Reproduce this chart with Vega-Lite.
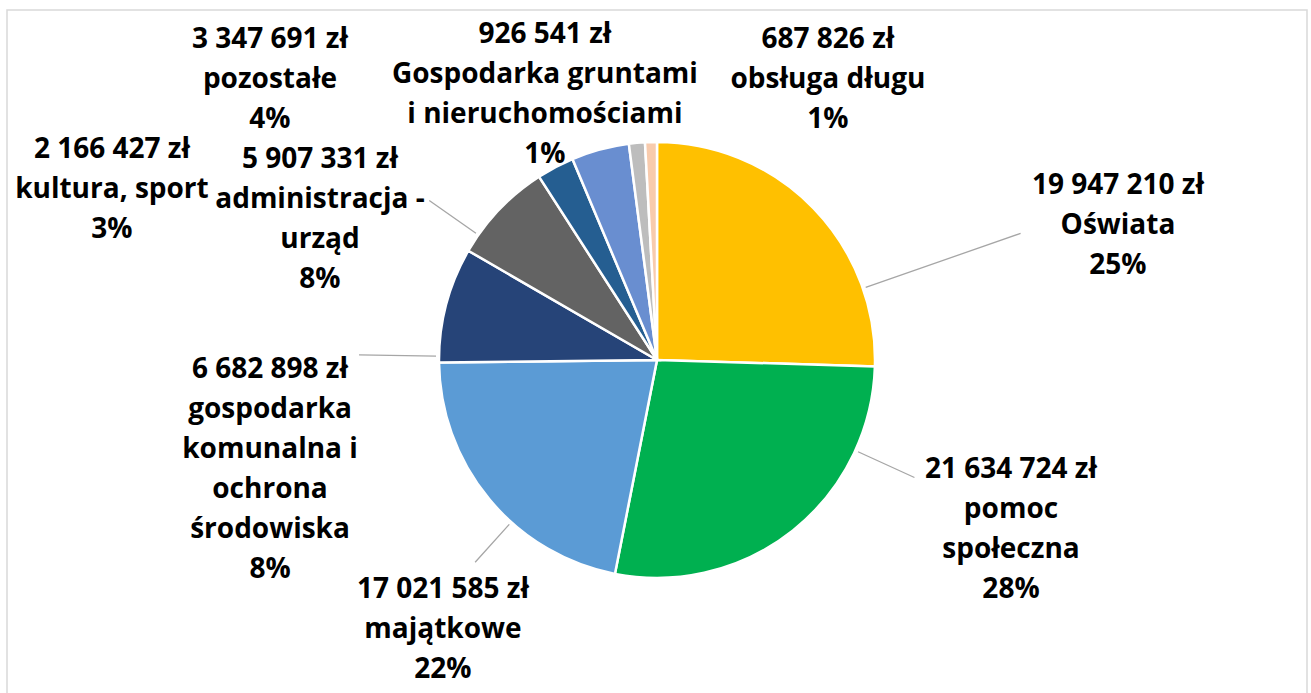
{
  "$schema": "https://vega.github.io/schema/vega-lite/v6.json",
  "width": 1300,
  "height": 700,
  "padding": {"left": 7, "top": 10, "right": 4, "bottom": 0},
  "autosize": {"type": "none"},
  "background": "white",
  "config": {
    "view": {"stroke": null},
    "text": {"font": "Open Sans", "fontSize": 28, "fontWeight": "bold", "lineHeight": 40, "lineBreak": "\n", "align": "center", "baseline": "middle", "color": "#000000"}
  },
  "data": {
    "values": [
      {"idx": 1, "category": "Oświata", "value": 19947210, "label": "19 947 210 zł\nOświata\n25%"},
      {"idx": 2, "category": "pomoc społeczna", "value": 21634724, "label": "21 634 724 zł\npomoc\nspołeczna\n28%"},
      {"idx": 3, "category": "majątkowe", "value": 17021585, "label": "17 021 585 zł\nmajątkowe\n22%"},
      {"idx": 4, "category": "gospodarka komunalna i ochrona środowiska", "value": 6682898, "label": "6 682 898 zł\ngospodarka\nkomunalna i\nochrona\nśrodowiska\n8%"},
      {"idx": 5, "category": "administracja - urząd", "value": 5907331, "label": "5 907 331 zł\nadministracja -\nurząd\n8%"},
      {"idx": 6, "category": "kultura, sport", "value": 2166427, "label": "2 166 427 zł\nkultura, sport\n3%"},
      {"idx": 7, "category": "pozostałe", "value": 3347691, "label": "3 347 691 zł\npozostałe\n4%"},
      {"idx": 8, "category": "Gospodarka gruntami i nieruchomościami", "value": 926541, "label": "926 541 zł\nGospodarka gruntami\ni nieruchomościami\n1%"},
      {"idx": 9, "category": "obsługa długu", "value": 687826, "label": "687 826 zł\nobsługa długu\n1%"}
    ]
  },
  "transform": [
    {"stack": "value", "groupby": [], "sort": [{"field": "idx", "order": "ascending"}], "as": ["v0", "v1"]}
  ],
  "layer": [
    {
      "data": {"values": [{"frame": "chart area"}]},
      "transform": [],
      "mark": {"type": "rect", "fill": null, "stroke": "#D9D9D9", "strokeWidth": 1.5},
      "encoding": {"x": {"value": 0}, "x2": {"value": "width"}, "y": {"value": 0}, "y2": {"value": "height"}}
    },
    {
      "mark": {"type": "arc", "outerRadius": 218, "stroke": "#FFFFFF", "strokeWidth": 2.5},
      "encoding": {
        "theta": {"field": "v1", "type": "quantitative", "scale": {"nice": false, "zero": true}},
        "theta2": {"field": "v0"},
        "color": {
          "field": "category", "type": "nominal", "legend": null,
          "scale": {
            "domain": ["Oświata", "pomoc społeczna", "majątkowe", "gospodarka komunalna i ochrona środowiska", "administracja - urząd", "kultura, sport", "pozostałe", "Gospodarka gruntami i nieruchomościami", "obsługa długu"],
            "range": ["#FFC000", "#00B050", "#5B9BD5", "#264478", "#636363", "#255E91", "#698ED0", "#BDBDBD", "#F8CBAD"]
          }
        }
      }
    },
    {
      "transform": [{"filter": {"field": "idx", "equal": 1}}],
      "mark": {"type": "arc", "innerRadius": 221, "outerRadius": 385, "thetaOffset": 1.2357, "theta2Offset": 1.2357, "stroke": "#A6A6A6", "strokeWidth": 1.3, "fill": null},
      "encoding": {"theta": {"field": "v0", "type": "quantitative", "stack": null}, "theta2": {"field": "v0"}}
    },
    {
      "transform": [{"filter": {"field": "idx", "equal": 2}}],
      "mark": {"type": "arc", "innerRadius": 221, "outerRadius": 283, "thetaOffset": 0.3988, "theta2Offset": 0.3988, "stroke": "#A6A6A6", "strokeWidth": 1.3, "fill": null},
      "encoding": {"theta": {"field": "v0", "type": "quantitative", "stack": null}, "theta2": {"field": "v0"}}
    },
    {
      "transform": [{"filter": {"field": "idx", "equal": 3}}],
      "mark": {"type": "arc", "innerRadius": 221, "outerRadius": 272, "thetaOffset": 0.5381, "theta2Offset": 0.5381, "stroke": "#A6A6A6", "strokeWidth": 1.3, "fill": null},
      "encoding": {"theta": {"field": "v0", "type": "quantitative", "stack": null}, "theta2": {"field": "v0"}}
    },
    {
      "transform": [{"filter": {"field": "idx", "equal": 4}}],
      "mark": {"type": "arc", "innerRadius": 221, "outerRadius": 298, "thetaOffset": 0.0284, "theta2Offset": 0.0284, "stroke": "#A6A6A6", "strokeWidth": 1.3, "fill": null},
      "encoding": {"theta": {"field": "v0", "type": "quantitative", "stack": null}, "theta2": {"field": "v0"}}
    },
    {
      "transform": [{"filter": {"field": "idx", "equal": 5}}],
      "mark": {"type": "arc", "innerRadius": 221, "outerRadius": 278, "thetaOffset": 0.0857, "theta2Offset": 0.0857, "stroke": "#A6A6A6", "strokeWidth": 1.3, "fill": null},
      "encoding": {"theta": {"field": "v0", "type": "quantitative", "stack": null}, "theta2": {"field": "v0"}}
    },
    {
      "transform": [{"filter": {"field": "idx", "equal": 1}}],
      "mark": {"type": "text", "radius": 492.7, "thetaOffset": 1.2099},
      "encoding": {"theta": {"field": "v0", "type": "quantitative", "stack": null}, "text": {"field": "label"}}
    },
    {
      "transform": [{"filter": {"field": "idx", "equal": 2}}],
      "mark": {"type": "text", "radius": 370.7, "thetaOffset": 0.2719},
      "encoding": {"theta": {"field": "v0", "type": "quantitative", "stack": null}, "text": {"field": "label"}}
    },
    {
      "transform": [{"filter": {"field": "idx", "equal": 3}}],
      "mark": {"type": "text", "radius": 314.2, "thetaOffset": 0.5552},
      "encoding": {"theta": {"field": "v0", "type": "quantitative", "stack": null}, "text": {"field": "label"}}
    },
    {
      "transform": [{"filter": {"field": "idx", "equal": 4}}],
      "mark": {"type": "text", "radius": 387.1, "thetaOffset": -0.0148},
      "encoding": {"theta": {"field": "v0", "type": "quantitative", "stack": null}, "text": {"field": "label"}}
    },
    {
      "transform": [{"filter": {"field": "idx", "equal": 5}}],
      "mark": {"type": "text", "radius": 391.9, "thetaOffset": 0.0105},
      "encoding": {"theta": {"field": "v0", "type": "quantitative", "stack": null}, "text": {"field": "label"}}
    },
    {
      "transform": [{"filter": {"field": "idx", "equal": 6}}],
      "mark": {"type": "text", "radius": 584.1, "thetaOffset": -0.6313},
      "encoding": {"theta": {"field": "v0", "type": "quantitative", "stack": null}, "text": {"field": "label"}}
    },
    {
      "transform": [{"filter": {"field": "idx", "equal": 7}}],
      "mark": {"type": "text", "radius": 502.2, "thetaOffset": -0.4819},
      "encoding": {"theta": {"field": "v0", "type": "quantitative", "stack": null}, "text": {"field": "label"}}
    },
    {
      "transform": [{"filter": {"field": "idx", "equal": 8}}],
      "mark": {"type": "text", "radius": 343.8, "thetaOffset": -0.2025},
      "encoding": {"theta": {"field": "v0", "type": "quantitative", "stack": null}, "text": {"field": "label"}}
    },
    {
      "transform": [{"filter": {"field": "idx", "equal": 9}}],
      "mark": {"type": "text", "radius": 362.8, "thetaOffset": 0.5458},
      "encoding": {"theta": {"field": "v0", "type": "quantitative", "stack": null}, "text": {"field": "label"}}
    }
  ]
}
